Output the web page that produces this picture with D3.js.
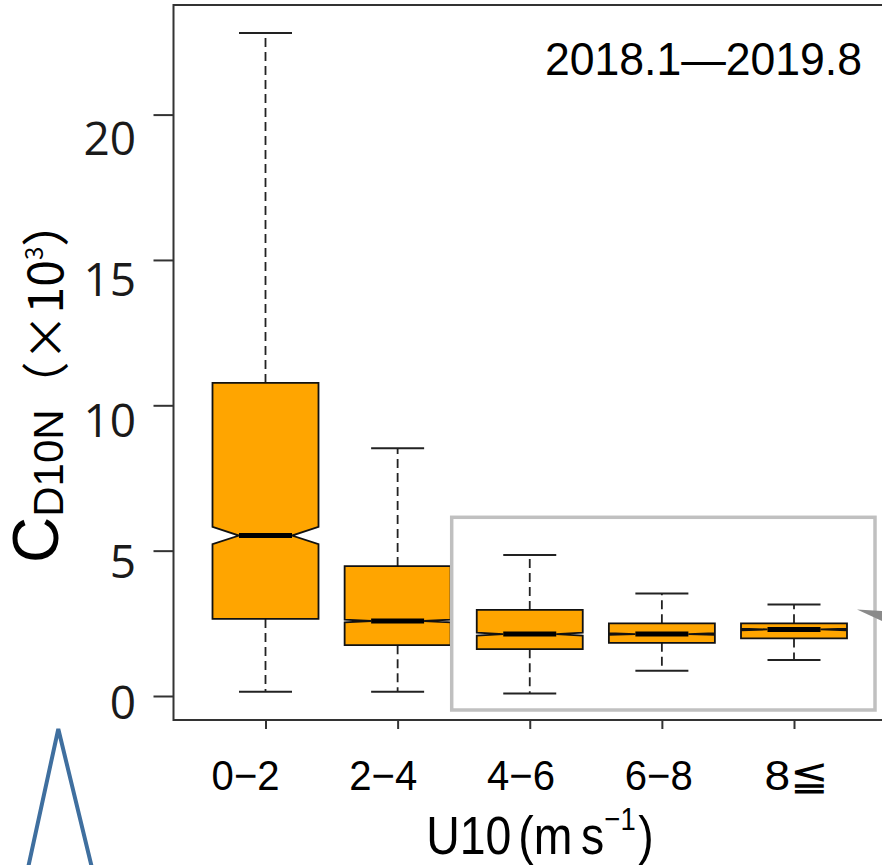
<!DOCTYPE html>
<html>
<head>
<meta charset="utf-8">
<script src="https://cdn.jsdelivr.net/npm/d3@7"></script>
<style>
  body { margin: 0; background: #fff; }
  svg { display: block; }
</style>
</head>
<body>
<svg id="chart" width="882" height="865"></svg>
<script>
// Wind-speed classes (m/s) and box statistics of C_D10N (×10³)
const categories   = ["0−2", "2−4", "4−6", "6−8", "8≦"];
const whiskerLow   = [0.15, 0.15, 0.09, 0.87, 1.24];
const lowerHinge   = [2.65, 1.75, 1.61, 1.83, 1.98];
const medians      = [5.52, 2.58, 2.13, 2.13, 2.29];
const upperHinge   = [10.77, 4.47, 2.96, 2.50, 2.50];
const whiskerHigh  = [22.81, 8.52, 4.85, 3.53, 3.15];
const notchLow     = [5.22, 2.53, 2.08, 2.10, 2.26];
const notchHigh    = [5.82, 2.63, 2.18, 2.16, 2.32];
const yTicks       = [0, 5, 10, 15, 20];
const periodLabel  = "2018.1—2019.8";

const boxes = categories.map((c, i) => ({
  cat: c, lo: whiskerLow[i], q1: lowerHinge[i], med: medians[i],
  q3: upperHinge[i], hi: whiskerHigh[i], nLo: notchLow[i], nHi: notchHigh[i]
}));

const svg = d3.select("#chart");
const plot = { left: 173.5, top: 5, bottom: 720, right: 960 };

const y = d3.scaleLinear().domain([0, 20]).range([696, 114.6]);
const x = d3.scalePoint().domain(categories).range([265.5, 794]);
// tick labels sit on their own, slightly spread-out grid
const yLab = d3.scaleLinear().domain([0, 20]).range([702, 138]);
const xLab = d3.scalePoint().domain(categories).range([245.6, 796.4]);

const boxW = 106, half = boxW / 2, capHalf = boxW / 4, inset = boxW / 4;

// plot frame
svg.append("rect")
  .attr("x", plot.left).attr("y", plot.top)
  .attr("width", plot.right - plot.left).attr("height", plot.bottom - plot.top)
  .attr("fill", "none").attr("stroke", "#333").attr("stroke-width", 2);

// y axis ticks
const yAxis = svg.append("g")
  .attr("transform", `translate(${plot.left},0)`)
  .call(d3.axisLeft(y).tickValues(yTicks).tickSize(20).tickFormat(""));
yAxis.select(".domain").remove();
yAxis.selectAll("line").attr("stroke", "#333").attr("stroke-width", 2);

svg.append("g").selectAll("text").data(yTicks).join("text")
  .attr("x", 136).attr("y", d => yLab(d))
  .attr("dy", "0.36em")
  .attr("text-anchor", "end")
  .attr("font-family", "'Open Sans', 'DejaVu Sans', sans-serif")
  .attr("font-size", 46).attr("fill", "#1a1a1a")
  .text(d => d);

// x axis ticks
const xAxis = svg.append("g")
  .attr("transform", `translate(0,${plot.bottom})`)
  .call(d3.axisBottom(x).tickSize(9).tickFormat(""));
xAxis.select(".domain").remove();
xAxis.selectAll("line").attr("stroke", "#333").attr("stroke-width", 2);

svg.append("g").selectAll("text").data(categories).join("text")
  .attr("x", d => xLab(d)).attr("y", 790)
  .attr("text-anchor", "middle")
  .attr("font-family", "'Liberation Sans Narrow', 'Liberation Sans', sans-serif")
  .attr("font-size", 42).attr("fill", "#000")
  .attr("textLength", d => d.length > 2 ? 68 : 64)
  .attr("lengthAdjust", "spacingAndGlyphs")
  .text(d => d);

// whiskers
const g = svg.append("g");
const bx = g.selectAll("g.box").data(boxes).join("g").attr("class", "box");

bx.append("line")
  .attr("x1", d => x(d.cat)).attr("x2", d => x(d.cat))
  .attr("y1", d => y(d.q3)).attr("y2", d => y(d.hi))
  .attr("stroke", "#222").attr("stroke-width", 1.8).attr("stroke-dasharray", "9,5");
bx.append("line")
  .attr("x1", d => x(d.cat)).attr("x2", d => x(d.cat))
  .attr("y1", d => y(d.q1)).attr("y2", d => y(d.lo))
  .attr("stroke", "#222").attr("stroke-width", 1.8).attr("stroke-dasharray", "9,5");
["hi", "lo"].forEach(k => {
  bx.append("line")
    .attr("x1", d => x(d.cat) - capHalf).attr("x2", d => x(d.cat) + capHalf)
    .attr("y1", d => y(d[k])).attr("y2", d => y(d[k]))
    .attr("stroke", "#222").attr("stroke-width", 2);
});

// notched boxes
bx.append("path")
  .attr("d", d => {
    const c = x(d.cat), l = c - half, r = c + half;
    const p = d3.path();
    p.moveTo(l, y(d.q1));
    p.lineTo(l, y(d.nLo));
    p.lineTo(l + inset, y(d.med));
    p.lineTo(l, y(d.nHi));
    p.lineTo(l, y(d.q3));
    p.lineTo(r, y(d.q3));
    p.lineTo(r, y(d.nHi));
    p.lineTo(r - inset, y(d.med));
    p.lineTo(r, y(d.nLo));
    p.lineTo(r, y(d.q1));
    p.closePath();
    return p.toString();
  })
  .attr("fill", "#FFA500").attr("stroke", "#111").attr("stroke-width", 1.8)
  .attr("stroke-linejoin", "miter");

// medians
bx.append("line")
  .attr("x1", d => x(d.cat) - half + inset).attr("x2", d => x(d.cat) + half - inset)
  .attr("y1", d => y(d.med)).attr("y2", d => y(d.med))
  .attr("stroke", "#000").attr("stroke-width", 5);

// highlight frame around the high-wind classes
svg.append("rect")
  .attr("x", 451.7).attr("y", 517.3).attr("width", 423.3).attr("height", 192.7)
  .attr("fill", "none").attr("stroke", "#c0c0c0").attr("stroke-width", 3.5);

// pointer wedge leaving the frame to the right
svg.append("path")
  .attr("d", "M857,609.5 L882,611 L882,621 Z")
  .attr("fill", "#8a8a8a");

// period label
svg.append("text")
  .attr("x", 545).attr("y", 75)
  .attr("font-family", "'Liberation Sans Narrow', 'Liberation Sans', sans-serif")
  .attr("font-size", 46).attr("fill", "#000")
  .attr("textLength", 317).attr("lengthAdjust", "spacingAndGlyphs")
  .text(periodLabel);

// y axis title
const yt = svg.append("text")
  .attr("transform", "translate(58,563) rotate(-90)")
  .attr("font-family", "'Liberation Sans', Arial, sans-serif")
  .attr("fill", "#000");
yt.append("tspan").attr("font-size", 64).text("C");
yt.append("tspan").attr("font-size", 42).attr("dy", 5).text("D10N");
yt.append("tspan").attr("font-size", 48).attr("dy", 0)
  .attr("font-family", "'Noto Sans CJK JP', sans-serif").text("（×10");
yt.append("tspan").attr("font-size", 24).attr("dy", -20)
  .attr("font-family", "'Noto Sans CJK JP', sans-serif").text("3");
yt.append("tspan").attr("font-size", 48).attr("dy", 20)
  .attr("font-family", "'Noto Sans CJK JP', sans-serif").text("）");

// x axis title
const xt = svg.append("g").attr("transform", "translate(540,854) scale(0.86,1)");
const xtt = xt.append("text").attr("text-anchor", "middle")
  .attr("font-family", "'Liberation Sans', Arial, sans-serif").attr("fill", "#000");
xtt.append("tspan").attr("font-size", 54).text("U10");
xtt.append("tspan").attr("font-size", 54).attr("dx", 8).text("(m");
xtt.append("tspan").attr("font-size", 54).attr("dx", 10).text("s");
xtt.append("tspan").attr("font-size", 32).attr("dy", -24).text("−1");
xtt.append("tspan").attr("font-size", 54).attr("dy", 24).attr("dx", 3).text(")");

// partial outline at the lower left
svg.append("path")
  .attr("d", "M28,868 L58.3,729 L92,868")
  .attr("fill", "none").attr("stroke", "#3f6f9f").attr("stroke-width", 4)
  .attr("stroke-linejoin", "miter");
</script>
</body>
</html>
